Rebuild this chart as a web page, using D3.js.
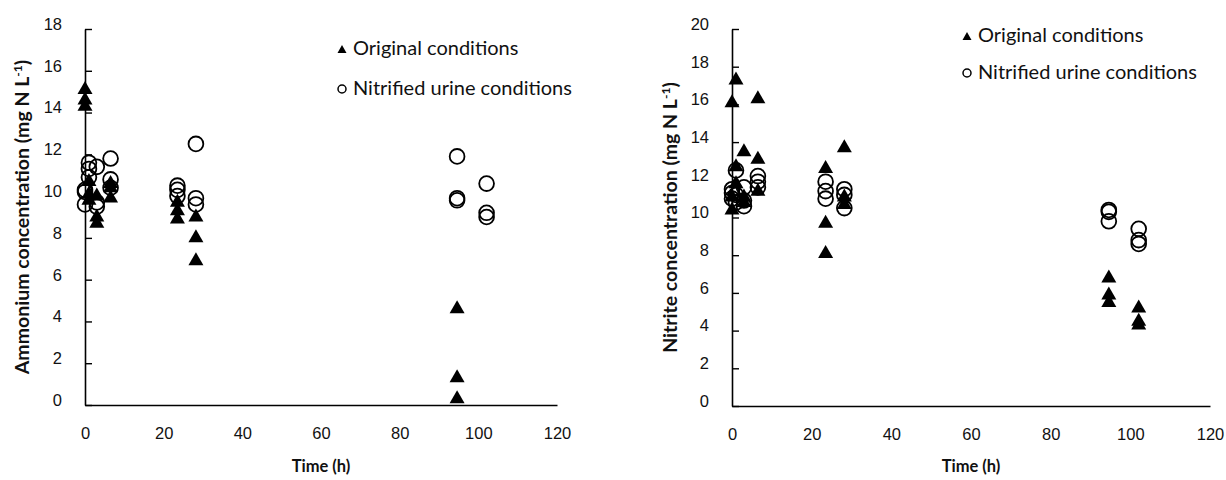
<!DOCTYPE html>
<html>
<head>
<meta charset="utf-8">
<script src="https://cdn.jsdelivr.net/npm/d3@7"></script>
<style>
  body { margin: 0; background: #fff; }
  svg { display: block; font-family: Lato, "Open Sans", sans-serif; }
</style>
</head>
<body>
<svg id="chart" width="1226" height="480"></svg>
<script>
// Sampling times (h)
const hours = [0, 1, 3, 6.5, 23.5, 28.2, 94.6, 102.1];
const seriesNames = ["Original conditions", "Nitrified urine conditions"];

// Ammonium concentration (mg N/L), replicates per sampling time
const ammoniumOriginal = [
  [15.2, 14.7, 14.4], [10.8, 10.2, 9.9], [10.1, 9.1, 8.8], [10.7, 10.5, 10.0],
  [9.8, 9.4, 9.0], [9.1, 8.1, 7.0], [4.7, 1.4, 0.4], []
];
const ammoniumNitrified = [
  [10.3, 10.2, 9.6], [11.6, 11.3, 10.9], [11.4, 9.7, 9.5], [11.8, 10.8, 10.4],
  [10.5, 10.3, 10.0], [12.5, 9.9, 9.6], [11.9, 9.9, 9.8], [10.6, 9.2, 9.0]
];

// Nitrite concentration (mg N/L), replicates per sampling time
const nitriteOriginal = [
  [16.2, 11.2, 10.5], [17.4, 12.8, 11.9], [13.6, 11.2, 10.9], [16.4, 13.2, 11.5],
  [12.7, 9.8, 8.2], [13.8, 11.2, 10.8], [6.9, 6.0, 5.6], [5.3, 4.6, 4.4]
];
const nitriteNitrified = [
  [11.5, 11.3, 11.0], [12.5, 11.2, 10.8], [11.6, 10.9, 10.6], [12.2, 11.9, 11.6],
  [11.9, 11.4, 11.0], [11.5, 11.2, 10.5], [10.4, 10.3, 9.8], [9.4, 8.8, 8.6]
];

const xTicks = [0, 20, 40, 60, 80, 100, 120];
const ammoniumTicks = [0, 2, 4, 6, 8, 10, 12, 14, 16, 18];
const nitriteTicks = [0, 2, 4, 6, 8, 10, 12, 14, 16, 18, 20];

const svg = d3.select("#chart");

// Flatten replicate groups into {t, v} points
function toPoints(groups) {
  const pts = [];
  groups.forEach((reps, i) => reps.forEach(v => pts.push({ t: hours[i], v })));
  return pts;
}

const triPath = (w, h) => `M0,${-h / 2}L${w / 2},${h / 2}L${-w / 2},${h / 2}Z`;

function drawPanel(cfg) {
  const x = d3.scaleLinear().domain([0, 120]).range([cfg.x0, cfg.x1]);
  const y = d3.scaleLinear().domain([0, cfg.yMax]).range([cfg.y0, cfg.y1]);
  const g = svg.append("g");

  // y axis: ticks point into the plot
  const yAx = g.append("g")
    .attr("transform", `translate(${cfg.x0},0)`)
    .call(d3.axisLeft(y).tickValues(cfg.yTicks).tickFormat(d3.format("d"))
      .tickSizeInner(-7).tickSizeOuter(0).tickPadding(23));
  yAx.select(".domain").attr("stroke", "#000").attr("stroke-width", 1.6);
  yAx.selectAll(".tick line").attr("stroke", "#000").attr("stroke-width", 1.4);
  yAx.selectAll("text").attr("font-size", 16.5).attr("fill", "#111")
    .attr("dy", "0.02em");

  // x axis: no tick marks
  const xAx = g.append("g")
    .attr("transform", `translate(0,${cfg.y0})`)
    .call(d3.axisBottom(x).tickValues(xTicks).tickFormat(d3.format("d"))
      .tickSize(0).tickPadding(22));
  xAx.select(".domain").attr("stroke", "#000").attr("stroke-width", 1.6);
  xAx.selectAll("text").attr("font-size", 16.5).attr("fill", "#111");

  // axis titles
  g.append("text")
    .attr("x", (cfg.x0 + cfg.x1) / 2).attr("y", 472)
    .attr("text-anchor", "middle").attr("font-weight", "bold")
    .attr("font-size", 16.5).attr("fill", "#111")
    .text("Time (h)");

  const yt = g.append("text")
    .attr("transform", `translate(${cfg.titleX},${(cfg.y0 + cfg.y1) / 2}) rotate(-90)`)
    .attr("text-anchor", "middle").attr("font-weight", "bold")
    .attr("font-size", cfg.titleSize).attr("fill", "#111");
  yt.append("tspan").text(cfg.title + " (mg N L");
  yt.append("tspan").attr("font-size", cfg.titleSize * 0.62).attr("dy", "-0.6em").text("-1");
  yt.append("tspan").attr("dy", "0.37em").text(")");

  // data markers
  g.append("g").selectAll("path")
    .data(toPoints(cfg.original)).join("path")
    .attr("transform", d => `translate(${x(d.t)},${y(d.v)})`)
    .attr("d", triPath(15, 13))
    .attr("fill", "#000");

  g.append("g").selectAll("circle")
    .data(toPoints(cfg.nitrified)).join("circle")
    .attr("cx", d => x(d.t)).attr("cy", d => y(d.v))
    .attr("r", 7.4)
    .attr("fill", "none").attr("stroke", "#000").attr("stroke-width", 1.8);

  // legend
  const lg = g.append("g");
  lg.append("path")
    .attr("transform", `translate(${cfg.legX},${cfg.legY[0]})`)
    .attr("d", triPath(9, 8)).attr("fill", "#000");
  lg.append("circle")
    .attr("cx", cfg.legX).attr("cy", cfg.legY[1]).attr("r", 4)
    .attr("fill", "none").attr("stroke", "#000").attr("stroke-width", 1.5);
  seriesNames.forEach((name, i) => {
    lg.append("text")
      .attr("x", cfg.legX + 11).attr("y", cfg.legY[i] + 6)
      .attr("font-size", 20).attr("fill", "#111")
      .text(name);
  });
}

drawPanel({
  x0: 85, x1: 557, y0: 405, y1: 29, yMax: 18, yTicks: ammoniumTicks,
  title: "Ammonium concentration", titleX: 29, titleSize: 19.5,
  original: ammoniumOriginal, nitrified: ammoniumNitrified,
  legX: 342, legY: [49, 89]
});

drawPanel({
  x0: 732, x1: 1210, y0: 406, y1: 29, yMax: 20, yTicks: nitriteTicks,
  title: "Nitrite concentration", titleX: 677, titleSize: 19.5,
  original: nitriteOriginal, nitrified: nitriteNitrified,
  legX: 967, legY: [36, 73]
});
</script>
</body>
</html>
